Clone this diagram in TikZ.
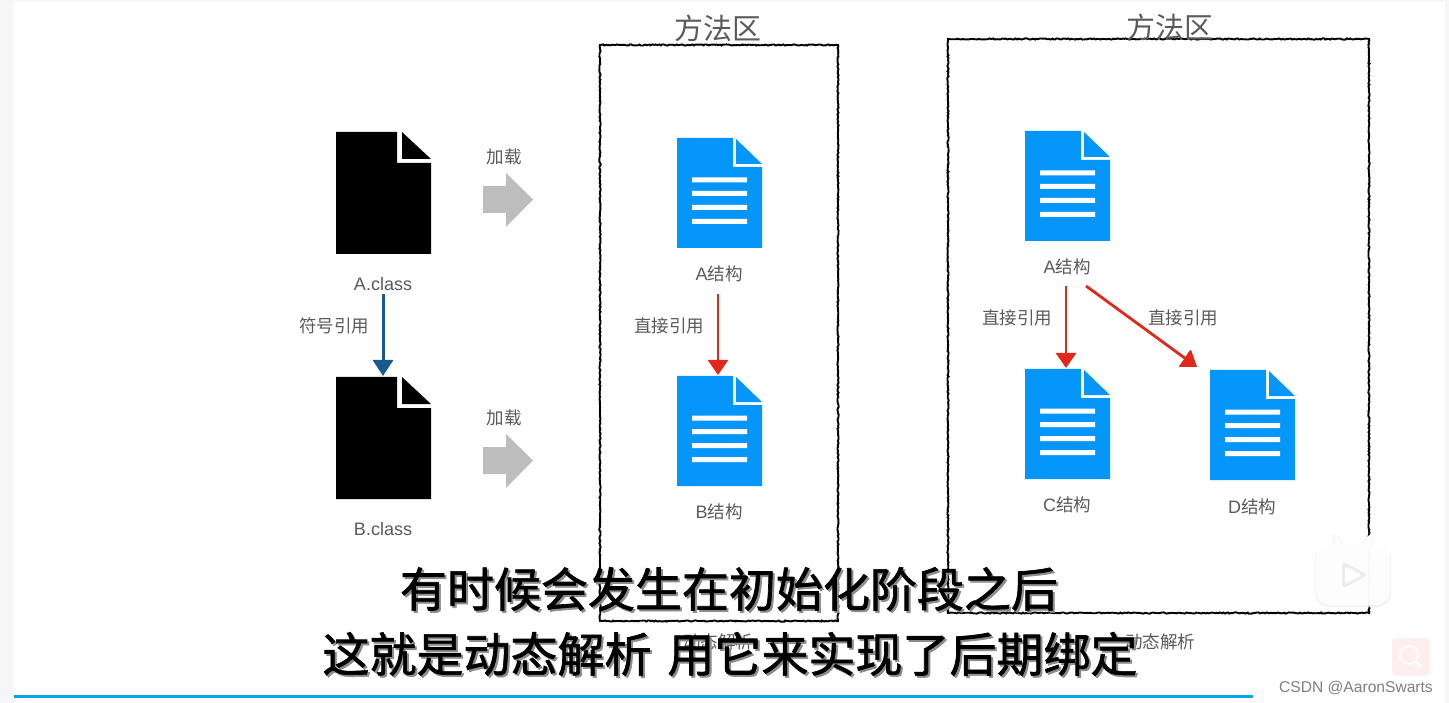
\documentclass[tikz,border=0pt]{standalone}
\usepackage{fontspec}
\setmainfont{Liberation Sans}
\newfontfamily\cjk{Noto Sans CJK SC}
\newfontfamily\cjkcap[FakeBold=1.4]{Noto Sans CJK SC}
\usetikzlibrary{arrows.meta,calc,decorations.pathmorphing}
\definecolor{docblue}{HTML}{0596FC}
\definecolor{txt}{HTML}{5A5A5A}
\definecolor{redar}{HTML}{E0281C}
\definecolor{bluear}{HTML}{1A5A8C}
\definecolor{greyar}{HTML}{BDBDBD}
\definecolor{strip}{HTML}{F6F6F6}
\definecolor{barblue}{HTML}{0AA5E6}
\tikzset{
  lab/.style={text=txt,font=\fontsize{18}{20}\selectfont,inner sep=0pt,anchor=center,yshift=-.7pt},
  title/.style={text=txt,font=\cjk\fontsize{29}{32}\selectfont,inner sep=0pt,anchor=center},
  caption/.style={font=\cjkcap\fontsize{47}{50}\selectfont,inner sep=0pt,anchor=center,text=black},
  capshadow/.style={font=\cjkcap\fontsize{47}{50}\selectfont,inner sep=0pt,anchor=center,text=black!45},
  docbox/.style={inner sep=0pt,outer sep=0pt,anchor=north west},
  sketchbox/.style={line width=1.9pt,black,decorate,decoration={random steps,segment length=1.6pt,amplitude=.6pt}},
  redarrow/.style={line width=2.8pt,redar,-{Triangle[length=15pt,width=20pt]}},
  bluearrow/.style={line width=3pt,bluear,-{Triangle[length=16pt,width=20pt]}},
  greyarrow/.style={fill=greyar,draw=none},
}
% name, x, y
\newcommand{\blackdoc}[3]{%
  \node[docbox,minimum width=95pt,minimum height=122pt] (#1) at (#2,#3) {};
  \fill[black,shift={(#2,#3)}] (0,0) -- (61,0) -- (61,31) -- (95,31) -- (95,122) -- (0,122) -- cycle
     (66,0) -- (95,27) -- (66,27) -- cycle;
}
\newcommand{\bluedoc}[3]{%
  \node[docbox,minimum width=85pt,minimum height=110pt] (#1) at (#2,#3) {};
  \fill[docblue,shift={(#2,#3)}] (0,0) -- (56,0) -- (56,29) -- (85,29) -- (85,110) -- (0,110) -- cycle
     (59,1) -- (85,26) -- (59,26) -- cycle;
  \fill[white,shift={(#2,#3)}] (15,39.5) rectangle (70,44.5) (15,53) rectangle (70,58)
     (15,67) rectangle (70,72) (15,81) rectangle (70,86);
}
\newcommand{\cjklab}[1]{{\cjk\fontsize{17.5}{20}\selectfont #1}}
\begin{document}
\begin{tikzpicture}[x=1pt,y=-1pt]
\useasboundingbox (0,0) rectangle (1449,703);
\fill[white] (0,0) rectangle (1449,703);
\fill[strip] (0,0) rectangle (14,703);
\fill[strip] (1445,0) rectangle (1449,703);
\fill[strip] (14,0) rectangle (1445,2);

% sketch frames
\draw[sketchbox] (600,45) rectangle (838,621);
\draw[sketchbox] (948,39) rectangle (1369,613);
\node[title] (t1) at (718,28) {方法区};
\node[title] (t2) at (1170,27) {方法区};

% class files
\blackdoc{ca}{336}{132}
\blackdoc{cb}{336}{377}
\node[lab] (calab) at (383,283) {A.class};
\node[lab] (cblab) at (383,528) {B.class};
\node[lab] (fh) at (334,325) {\cjklab{符号引用}};
\draw[bluearrow] ($(calab.south)+(0,3)$) -- ($(cb.north)+(-0.5,-1)$);

% load arrows
\node[lab] (l1) at (504,156) {\cjklab{加载}};
\node[lab] (l2) at (504,417) {\cjklab{加载}};
\fill[greyarrow] (483,186) -- (506,186) -- (506,173) -- (533,199.5) -- (506,227) -- (506,213) -- (483,213) -- cycle;
\fill[greyarrow] (483,447) -- (506,447) -- (506,434) -- (533,460.5) -- (506,488) -- (506,474) -- (483,474) -- cycle;

% first method area
\bluedoc{a1}{677}{138}
\bluedoc{b1}{677}{376}
\node[lab] (a1lab) at (719,273) {A\cjklab{结构}};
\node[lab] (b1lab) at (719,511) {B\cjklab{结构}};
\node[lab] (z1) at (669,325) {\cjklab{直接引用}};
\draw[redarrow] ($(a1lab.south)+(-1,12)$) -- ($(b1.north)+(-1.5,-1)$);
\node[lab] (dt1) at (718,641) {\cjklab{动态解析}};

% second method area
\bluedoc{a2}{1025}{131}
\bluedoc{c2}{1025}{369}
\bluedoc{d2}{1210}{370}
\node[lab] (a2lab) at (1067,266) {A\cjklab{结构}};
\node[lab] (c2lab) at (1067,504) {C\cjklab{结构}};
\node[lab] (d2lab) at (1252,506) {D\cjklab{结构}};
\node[lab] (z2) at (1017,317) {\cjklab{直接引用}};
\node[lab] (z3) at (1183,317) {\cjklab{直接引用}};
\draw[redarrow] ($(a2lab.south)+(-1,11)$) -- ($(c2.north)+(-1.5,-1)$);
\draw[redarrow] ($(a2lab.south)+(19,11)$) -- ($(d2.north west)+(-13,-3)$);
\fill[redar] ($(d2.north west)+(-20,-20)$) -- ($(d2.north west)+(-13,-3)$) -- ($(d2.north west)+(-31,-3)$) -- cycle;
\node[lab] (dt2) at (1160,641) {\cjklab{动态解析}};

% subtitles
\node[capshadow] (s1s) at (731,591) {有时候会发生在初始化阶段之后};
\node[caption] (s1) at (729,589) {有时候会发生在初始化阶段之后};
\node[capshadow] (s2s) at (732,656) {这就是动态解析\hspace{16pt}用它来实现了后期绑定};
\node[caption] (s2) at (730,654) {这就是动态解析\hspace{16pt}用它来实现了后期绑定};

% progress bar
\fill[barblue] (14,695) rectangle (1253,698);

% tv watermark
\draw[black!8,line width=7pt,line cap=round] (1340,546) -- (1335,538) (1365,546) -- (1371,538);
\begin{scope}[opacity=.85]
\fill[black!5,rounded corners=14pt] (1315,546) rectangle (1391,607);
\fill[white,rounded corners=14pt] (1316,545) rectangle (1390,605);
\draw[white,line width=6pt,line cap=round] (1340,546) -- (1335,538) (1365,546) -- (1371,538);
\end{scope}
\fill[black!7,rounded corners=4pt] (1342,561) -- (1368,575) -- (1342,589) -- cycle;
\fill[white,rounded corners=3pt] (1345,566) -- (1362,575) -- (1345,584) -- cycle;

% search button
\fill[red!50!white,opacity=.13,rounded corners=4pt] (1392,638) rectangle (1430,676);
\draw[white,line width=2pt] (1409,655) circle[radius=9];
\draw[white,line width=3pt,line cap=round] (1416,662) -- (1421,667);

\node[inner sep=0pt,anchor=east,text=black!50,font=\fontsize{15.6}{18}\selectfont] (wm) at (1433,688) {CSDN @AaronSwarts};
\end{tikzpicture}
\end{document}
